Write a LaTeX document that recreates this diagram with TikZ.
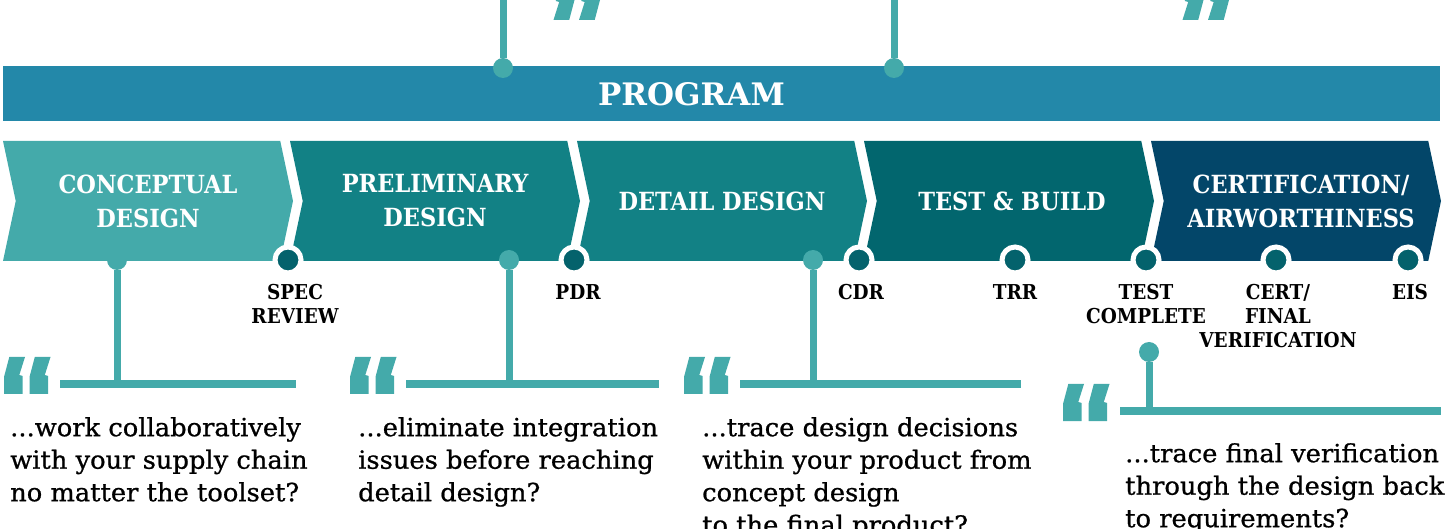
\documentclass[tikz,border=0pt]{standalone}
\usepackage{fontspec}
\usepackage{tikz}
\usetikzlibrary{shapes.symbols}
\usetikzlibrary{positioning}
\setmainfont[FakeStretch=1.03, FakeBold=0.8]{DejaVu Serif}
\newfontfamily\condfont{DejaVu Serif Condensed}
\newfontfamily\boldfont{DejaVu Serif}
\definecolor{barblue}{RGB}{35,136,169}
\definecolor{phaseA}{RGB}{68,170,170}
\definecolor{phaseB}{RGB}{18,129,133}
\definecolor{phaseC}{RGB}{2,102,110}
\definecolor{phaseD}{RGB}{3,70,105}
\definecolor{mileteal}{RGB}{4,98,108}
\definecolor{quoteteal}{RGB}{68,170,170}
\tikzstyle{programbar} = [rectangle, minimum width=1437pt, minimum height=55pt, inner sep=0pt, fill=barblue]
\tikzstyle{programtitle} = [inner sep=0pt, text=white, font=\boldfont\bfseries\fontsize{31}{36}\selectfont]
\tikzstyle{phase} = [signal, signal to=east, signal from=west, signal pointer angle=156, minimum width=290pt, minimum height=120pt, inner sep=0pt, text=white, align=center, font=\condfont\bfseries\fontsize{25}{34}\selectfont]
\tikzstyle{milestone} = [circle, minimum size=26pt, inner sep=0pt, fill=mileteal, draw=white, line width=5pt]
\tikzstyle{milelabel} = [anchor=north, inner sep=0pt, align=center, font=\condfont\bfseries\fontsize{20.5}{24}\selectfont]
\tikzstyle{quotedot} = [circle, minimum size=20pt, inner sep=0pt, fill=quoteteal]
\tikzstyle{stem} = [draw=quoteteal, line width=7pt]
\tikzstyle{quotebar} = [draw=quoteteal, line width=8pt]
\tikzstyle{quotetext} = [anchor=north west, inner sep=0pt, align=left, font=\fontsize{25}{32.5}\selectfont]
\tikzset{openquote/.pic={
    \fill [quoteteal] (5.3,0) -- (21,0) -- (15.3,18) -- (18.7,19) -- (18.7,37) -- (0,37) -- (0,20) -- cycle;
    \fill [quoteteal] (30.8,0) -- (46.5,0) -- (40.8,18) -- (44.2,19) -- (44.2,37) -- (25.5,37) -- (25.5,20) -- cycle;
}}

\begin{document}
\begin{tikzpicture}[x=1pt, y=-1pt, node distance=287pt]
    \useasboundingbox (0,0) rectangle (1452,529);

    % top bar with the two quotes above it
    \node (program) [programbar] at (721.5,93.5) {};
    \node (programText) [programtitle] at (691.5,94) {PROGRAM};
    \coordinate (topA) at (503,-5);
    \coordinate (topB) at (894,-5);
    \node (topdotA) [quotedot] at (503,68) {};
    \node (topdotB) [quotedot] at (894,68) {};
    \draw [stem] (topA) -- (topdotA);
    \draw [stem] (topB) -- (topdotB);
    \pic [rotate=180] at (600,20) {openquote};
    \pic [rotate=180] at (1229,20) {openquote};

    % phases
    \node (concept) [phase, fill=phaseA] at (148,201) {CONCEPTUAL\\DESIGN};
    \node (prelim) [phase, fill=phaseB, right of=concept] {PRELIMINARY\\DESIGN};
    \node (detail) [phase, fill=phaseB, right of=prelim] {DETAIL DESIGN};
    \node (build) [phase, fill=phaseC, right of=detail] {\hspace*{6pt}TEST \& BUILD};
    \node (cert) [phase, fill=phaseD, right of=build] {\hspace*{10pt}CERTIFICATION/\\\hspace*{10pt}AIRWORTHINESS};

    % quotes below
    \node (dotA) [quotedot] at (117,260) {};
    \node (dotB) [quotedot] at (509,260) {};
    \node (dotC) [quotedot] at (813,260) {};
    \node (dotD) [quotedot] at (1149,352) {};
    \coordinate (barA) at (117,384);
    \coordinate (barB) at (509,384);
    \coordinate (barC) at (813,384);
    \coordinate (barD) at (1149,411);
    \coordinate (barAleft) at (60,384);
    \coordinate (barAright) at (296,384);
    \coordinate (barBleft) at (406,384);
    \coordinate (barBright) at (659,384);
    \coordinate (barCleft) at (740,384);
    \coordinate (barCright) at (1021,384);
    \coordinate (barDleft) at (1120,411);
    \coordinate (barDright) at (1441,411);
    \draw [stem] (dotA) -- (barA);
    \draw [stem] (dotB) -- (barB);
    \draw [stem] (dotC) -- (barC);
    \draw [stem] (dotD) -- (barD);
    \draw [quotebar] (barAleft) -- (barAright);
    \draw [quotebar] (barBleft) -- (barBright);
    \draw [quotebar] (barCleft) -- (barCright);
    \draw [quotebar] (barDleft) -- (barDright);
    \pic at (4,357) {openquote};
    \pic at (350,357) {openquote};
    \pic at (684,357) {openquote};
    \pic at (1063,384) {openquote};

    \node (askA) [quotetext] at (10,417) {...work collaboratively\\with your supply chain\\no matter the toolset?};
    \node (askB) [quotetext] at (358,417) {...eliminate integration\\issues before reaching\\detail design?};
    \node (askC) [quotetext] at (702,417) {...trace design decisions\\within your product from\\concept design\\to the final product?};
    \node (askD) [quotetext] at (1125,443) {...trace final verification\\through the design back\\to requirements?};

    % milestones
    \node (spec) [milestone] at (288,260) {};
    \node (pdr) [milestone] at (574,260) {};
    \node (cdr) [milestone] at (859,260) {};
    \node (trr) [milestone] at (1015,260) {};
    \node (testdone) [milestone] at (1146,260) {};
    \node (certfinal) [milestone] at (1276,260) {};
    \node (eis) [milestone] at (1408,260) {};

    \node (specText) [milelabel, node distance=24pt, below of=spec, anchor=north, xshift=7pt] {SPEC\\REVIEW};
    \node (pdrText) [milelabel, node distance=24pt, below of=pdr, anchor=north, xshift=4pt] {PDR};
    \node (cdrText) [milelabel, node distance=24pt, below of=cdr, anchor=north, xshift=2pt] {CDR};
    \node (trrText) [milelabel, node distance=24pt, below of=trr, anchor=north] {TRR};
    \node (testdoneText) [milelabel, node distance=24pt, below of=testdone, anchor=north] {TEST\\COMPLETE};
    \node (certfinalText) [milelabel, node distance=24pt, below of=certfinal, anchor=north, xshift=2pt] {CERT/\\FINAL\\VERIFICATION};
    \node (eisText) [milelabel, node distance=24pt, below of=eis, anchor=north, xshift=2pt] {EIS};

\end{tikzpicture}
\end{document}
